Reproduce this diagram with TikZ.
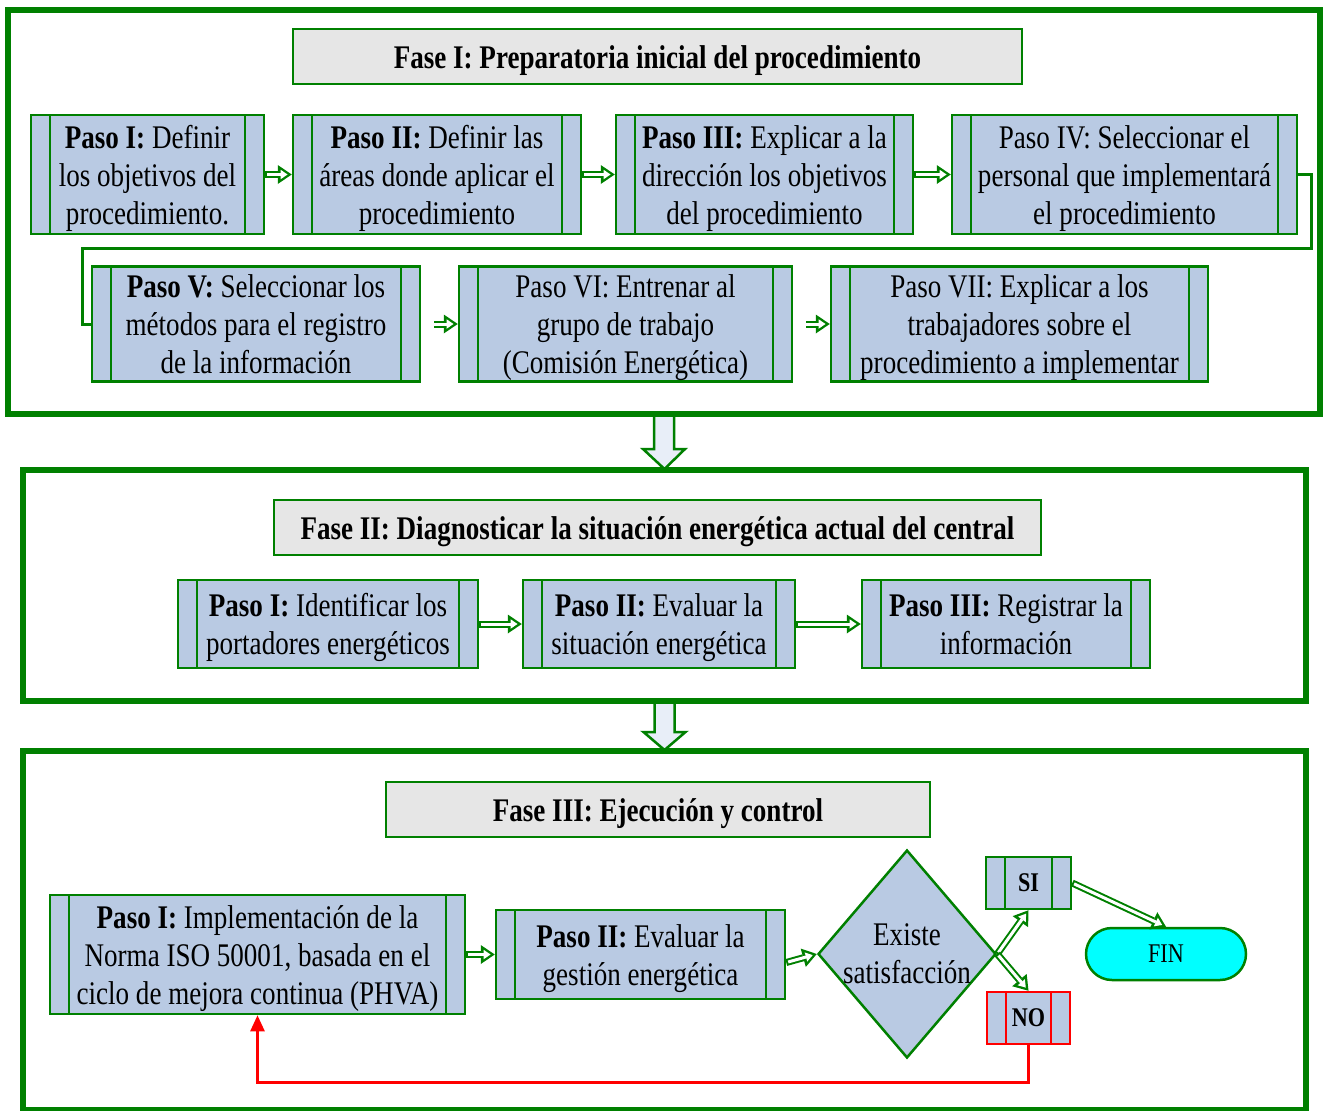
\documentclass[tikz,border=0pt]{standalone}
\usepackage{fontspec}
\setmainfont{Liberation Serif}[FakeStretch=0.82]
\usetikzlibrary{arrows.meta,shapes.geometric,calc}
\definecolor{gr}{RGB}{0,128,0}
\definecolor{boxblue}{RGB}{185,202,227}
\definecolor{titlegray}{RGB}{230,230,230}
\definecolor{arrowfill}{RGB}{232,238,248}
\definecolor{finfill}{RGB}{0,255,255}
\definecolor{redline}{RGB}{255,0,0}
\newcommand\bx[1]{\rule{0pt}{31pt}#1\rule[-8pt]{0pt}{8pt}}
\tikzset{
  bodyfont/.style={font=\fontsize{33}{38}\selectfont},
  smallfont/.style={font=\fontsize{27}{32}\selectfont},
  proc/.style={draw=#1, line width=2.5pt, fill=boxblue, align=center, inner sep=0pt, bodyfont,
    path picture={\draw[line width=2.5pt, draw=#1]
      ([xshift=19pt]path picture bounding box.north west) -- ([xshift=19pt]path picture bounding box.south west)
      ([xshift=-19pt]path picture bounding box.north east) -- ([xshift=-19pt]path picture bounding box.south east);}},
  proc/.default=gr,
  titlebox/.style={draw=gr, line width=2pt, fill=titlegray, inner sep=0pt, font=\fontsize{33}{38}\selectfont\bfseries},
  frame/.style={draw=gr, line width=4pt, inner sep=0pt},
  dbl/.style={draw=gr, line width=7pt, -{Triangle[length=14pt,width=19pt,line width=0pt]},
    postaction={draw=white, line width=3pt, -{Triangle[length=7pt,width=9.5pt,line width=0pt]}, shorten >=4.2pt, shorten <=2pt}},
  bigarrow/.style={draw=gr, line width=2.5pt, fill=arrowfill, line join=miter},
  plain/.style={draw=gr, line width=3pt},
}
\begin{document}
\begin{tikzpicture}[x=1pt,y=-1pt]
\useasboundingbox (0,0) rectangle (1326,1111);
% frames
\node[frame, minimum width=1310pt, minimum height=402pt] (f1) at (664,212) {};
\node[frame, minimum width=1281pt, minimum height=229pt] (f2) at (664.5,585.5) {};
\node[frame, minimum width=1281pt, minimum height=357pt] (f3) at (664.5,930.5) {};
% phase arrows
\draw[bigarrow] ($(f1.south)+(-10,0)$) -- ($(f1.south)+(-10,34)$) -- ($(f1.south)+(-21,34)$) -- (f2.north)
   -- ($(f1.south)+(21,34)$) -- ($(f1.south)+(10,34)$) -- ($(f1.south)+(10,0)$);
\draw[bigarrow] ($(f2.south)+(-10,0)$) -- ($(f2.south)+(-10,30)$) -- ($(f2.south)+(-21,30)$) -- (f3.north)
   -- ($(f2.south)+(21,30)$) -- ($(f2.south)+(10,30)$) -- ($(f2.south)+(10,0)$);
\draw[frame] (f1.north west) rectangle (f1.south east);
\draw[frame] (f2.north west) rectangle (f2.south east);
\draw[frame] (f3.north west) rectangle (f3.south east);

% titles
\node[titlebox, minimum width=729pt, minimum height=55pt] (t1) at (657.5,56.5) {\bx{Fase I: Preparatoria inicial del procedimiento}};
\node[titlebox, minimum width=767pt, minimum height=55pt] (t2) at (657.5,527.5) {\bx{Fase II: Diagnosticar la situación energética actual del central}};
\node[titlebox, minimum width=544pt, minimum height=55pt] (t3) at (658,809.5) {\bx{Fase III: Ejecución y control}};

% Fase I
\node[proc, minimum width=233pt, minimum height=119pt] (p1) at (147.5,174.5) {\bx{\textbf{Paso I:} Definir\\los objetivos del\\procedimiento.}};
\node[proc, minimum width=288pt, minimum height=119pt] (p2) at (437,174.5) {\bx{\textbf{Paso II:} Definir las\\áreas donde aplicar el\\procedimiento}};
\node[proc, minimum width=297pt, minimum height=119pt] (p3) at (764.5,174.5) {\bx{\textbf{Paso III:} Explicar a la\\dirección los objetivos\\del procedimiento}};
\node[proc, minimum width=345pt, minimum height=119pt] (p4) at (1124.5,174.5) {\bx{Paso IV: Seleccionar el\\personal que implementará\\el procedimiento}};
\node[proc, minimum width=328pt, minimum height=112pt] (p5) at (256,324) {\bx{\textbf{Paso V:} Seleccionar los\\métodos para el registro\\de la información}};
\node[proc, minimum width=333pt, minimum height=112pt] (p6) at (625.5,324) {\bx{Paso VI: Entrenar al\\grupo de trabajo\\(Comisión Energética)}};
\node[proc, minimum width=377pt, minimum height=112pt] (p7) at (1019.5,324) {\bx{Paso VII: Explicar a los\\trabajadores sobre el\\procedimiento a implementar}};
\draw[dbl] (p1.east) -- (p2.west);
\draw[dbl] (p2.east) -- (p3.west);
\draw[dbl] (p3.east) -- (p4.west);
\coordinate (bend) at (82,248);
\draw[plain] (p4.east) -- ++(13,0) |- (bend) |- (p5.west);
\draw[dbl, shorten <=13pt] (p5.east) -- (p6.west);
\draw[dbl, shorten <=13pt] (p6.east) -- (p7.west);

% Fase II
\node[proc, minimum width=300pt, minimum height=88pt] (q1) at (328,624) {\bx{\textbf{Paso I:} Identificar los\\portadores energéticos}};
\node[proc, minimum width=272pt, minimum height=88pt] (q2) at (659,624) {\bx{\textbf{Paso II:} Evaluar la\\situación energética}};
\node[proc, minimum width=288pt, minimum height=88pt] (q3) at (1006,624) {\bx{\textbf{Paso III:} Registrar la\\información}};
\draw[dbl] (q1.east) -- (q2.west);
\draw[dbl] (q2.east) -- (q3.west);

% Fase III
\node[proc, minimum width=415pt, minimum height=119pt] (r1) at (257.5,954.5) {\bx{\textbf{Paso I:} Implementación de la\\Norma ISO 50001, basada en el\\ciclo de mejora continua (PHVA)}};
\node[proc, minimum width=289pt, minimum height=89pt] (r2) at (640.5,954.5) {\bx{\textbf{Paso II:} Evaluar la\\gestión energética}};
\node[diamond, draw=gr, line width=2.5pt, fill=boxblue, minimum width=178pt, minimum height=208pt, inner sep=-6pt, align=center, bodyfont] (dia) at (907,954) {Existe\\satisfacción};
\node[proc, minimum width=85pt, minimum height=52pt, smallfont] (si) at (1028.5,883) {\textbf{SI}};
\node[proc=redline, minimum width=83pt, minimum height=52pt, smallfont] (no) at (1028.5,1018) {\textbf{NO}};
\node[draw=gr, line width=2.5pt, fill=finfill, rounded corners=26pt, minimum width=160pt, minimum height=52pt, inner sep=0pt, smallfont] (fin) at (1166,954) {FIN};
\draw[dbl] (r1.east) -- (r2.west);
\draw[dbl] ($(r2.east)+(0,8)$) -- (dia.west);
\draw[dbl] (dia.east) -- (si.south);
\draw[dbl] (dia.east) -- (no.north);
\draw[dbl] (si.east) -- (fin.north);
\draw[redline, line width=2.5pt, -{Triangle[length=16pt,width=14pt]}] (no.south) -- ++(0,37) -| (r1.south);
\end{tikzpicture}
\end{document}
